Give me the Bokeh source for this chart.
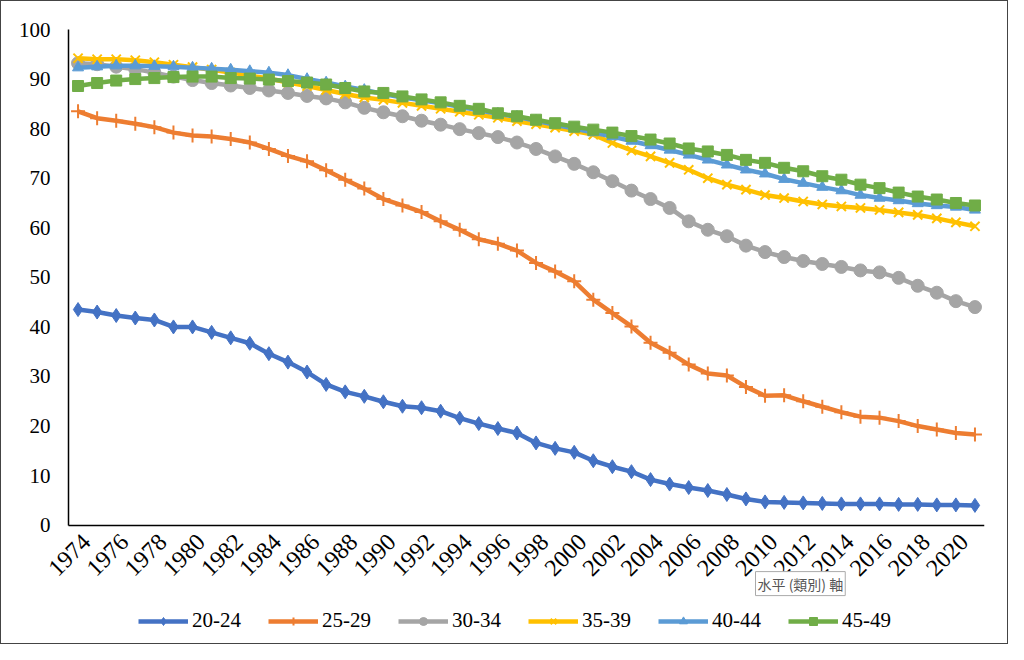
from bokeh.plotting import figure
from bokeh.models import (Range1d, FixedTicker, Legend, LegendItem, Label,
                          NumeralTickFormatter)
from bokeh.embed import file_html
from bokeh.resources import INLINE
import math

years = list(range(1974, 2022))

s20_24 = [43.5, 43.0, 42.3, 41.8, 41.4, 40.0, 40.0, 38.9, 37.8, 36.7,
          34.6, 32.9, 30.9, 28.4, 26.9, 26.0, 24.9, 24.0, 23.7, 23.0,
          21.6, 20.5, 19.5, 18.6, 16.6, 15.5, 14.7, 13.0, 11.8, 10.8,
          9.2, 8.3, 7.6, 7.0, 6.2, 5.3, 4.7, 4.6, 4.5, 4.4,
          4.3, 4.3, 4.3, 4.2, 4.2, 4.1, 4.1, 4.0]
s25_29 = [83.5, 82.1, 81.6, 81.0, 80.3, 79.2, 78.6, 78.4, 77.9, 77.2,
          75.9, 74.5, 73.4, 71.6, 69.7, 67.9, 65.8, 64.5, 63.2, 61.3,
          59.6, 57.7, 56.8, 55.4, 52.9, 51.2, 49.2, 45.5, 42.8, 40.1,
          36.8, 34.8, 32.4, 30.6, 30.2, 27.9, 26.1, 26.2, 25.0, 23.9,
          22.8, 21.9, 21.7, 21.0, 20.0, 19.3, 18.6, 18.3]
s30_34 = [93.2, 93.0, 92.5, 92.0, 91.3, 90.5, 89.8, 89.2, 88.7, 88.2,
          87.7, 87.2, 86.6, 86.1, 85.3, 84.2, 83.3, 82.5, 81.6, 80.8,
          79.9, 79.1, 78.3, 77.2, 75.9, 74.4, 72.9, 71.2, 69.4, 67.5,
          65.8, 64.0, 61.3, 59.6, 58.3, 56.4, 55.1, 54.1, 53.3, 52.7,
          52.1, 51.4, 51.0, 49.9, 48.3, 46.9, 45.2, 44.0]
s35_39 = [94.2, 94.0, 94.0, 93.8, 93.4, 92.9, 92.4, 91.9, 91.3, 90.7,
          90.1, 89.3, 88.6, 87.8, 87.0, 86.3, 85.8, 85.2, 84.6, 84.0,
          83.4, 82.8, 82.2, 81.5, 80.9, 80.2, 79.5, 78.8, 77.1, 75.6,
          74.4, 73.1, 71.7, 70.0, 68.7, 67.7, 66.6, 66.0, 65.3, 64.7,
          64.3, 64.0, 63.6, 63.1, 62.6, 61.9, 61.1, 60.3]
s40_44 = [92.3, 92.5, 92.7, 92.7, 92.6, 92.5, 92.3, 92.1, 91.9, 91.6,
          91.3, 90.8, 90.0, 89.3, 88.5, 87.8, 87.0, 86.3, 85.7, 85.1,
          84.4, 83.7, 83.0, 82.4, 81.6, 80.8, 80.0, 79.2, 78.4, 77.5,
          76.6, 75.7, 74.7, 73.7, 72.7, 71.7, 70.9, 69.8, 69.0, 68.2,
          67.5, 66.6, 66.0, 65.5, 64.9, 64.5, 64.2, 63.6]
s45_49 = [88.6, 89.2, 89.7, 90.0, 90.2, 90.4, 90.5, 90.5, 90.2, 90.1,
          89.9, 89.6, 89.3, 88.9, 88.2, 87.5, 87.2, 86.5, 85.9, 85.3,
          84.6, 84.0, 83.1, 82.5, 81.8, 81.1, 80.4, 79.8, 79.2, 78.5,
          77.8, 77.0, 76.0, 75.4, 74.7, 73.7, 73.1, 72.1, 71.4, 70.4,
          69.7, 68.7, 68.0, 67.1, 66.3, 65.7, 65.0, 64.5]

series_names = ["20-24", "25-29", "30-34", "35-39", "40-44", "45-49"]
series_values = [s20_24, s25_29, s30_34, s35_39, s40_44, s45_49]
colors = ["#4472C4", "#ED7D31", "#A5A5A5", "#FFC000", "#5B9BD5", "#70AD47"]
markers = ["diamond", "cross", "circle", "x", "triangle", "square"]
msizes = [14, 14, 13, 13, 11, 11]

y_ticks = list(range(0, 101, 10))
x_label_years = list(range(1974, 2021, 2))
tooltip_text = "水平 (類別) 軸"

FONT = "Liberation Serif"

X0, X1 = 1973.5, 2021.5          # category band edges (axis extent)
PX_PER_YEAR = 916 / 48.0
PX_PER_UNIT = 4.957
# frame extends left of / above / below the axes so the axis labels and the
# legend are drawn inside it (not clipped)
p = figure(width=1008, height=644, output_backend="svg", toolbar_location=None,
           x_range=Range1d(X0 - 60 / PX_PER_YEAR, X1),
           y_range=Range1d(-23.46, 100 + 18 / PX_PER_UNIT),
           min_border_left=7, min_border_right=25, min_border_top=10,
           min_border_bottom=4)
p.styles = {"border": "1px solid #444"}
p.outline_line_color = None
p.xgrid.visible = False
p.ygrid.visible = False

p.xaxis.fixed_location = 0
p.xaxis.bounds = (X0, X1)
p.yaxis.fixed_location = X0
p.yaxis.bounds = (0, 100)
# labels sit slightly right of the category centre, as in the original
p.xaxis.ticker = FixedTicker(ticks=[y + 0.45 for y in x_label_years])
p.xaxis.formatter = NumeralTickFormatter(format="0")
p.yaxis.ticker = FixedTicker(ticks=y_ticks)
for ax in (p.xaxis, p.yaxis):
    ax.axis_line_color = "black"
    ax.axis_line_width = 1.5
    ax.major_tick_line_color = None
    ax.minor_tick_line_color = None
    ax.major_tick_out = 0
    ax.major_tick_in = 0
    ax.major_label_text_font = FONT
    ax.major_label_text_color = "black"
p.yaxis.major_label_text_font_size = "21px"
p.xaxis.major_label_text_font_size = "24px"
p.yaxis.major_label_standoff = 18
p.xaxis.major_label_standoff = 13
p.xaxis.major_label_orientation = math.pi / 4

items = []
for name, vals, c, m, ms in zip(series_names, series_values, colors, markers, msizes):
    ln = p.line(years, vals, line_color=c, line_width=4.5)
    if m in ("cross", "x"):
        sc = p.scatter(years, vals, marker=m, size=ms, line_color=c, line_width=2)
    else:
        sc = p.scatter(years, vals, marker=m, size=ms, fill_color=c, line_color=c)
    items.append(LegendItem(label=name, renderers=[ln, sc]))

tip = Label(x=2009.5, y=-14.2, text=tooltip_text,
            text_font="Noto Sans CJK TC", text_font_size="14px",
            text_color="#555555", border_line_color="#AAAAAA",
            background_fill_color="white", padding=2)
p.add_layout(tip)

legend = Legend(items=items, orientation="horizontal", location=(130, 8),
                glyph_width=50, glyph_height=20, label_standoff=4, spacing=27,
                padding=0, margin=0, border_line_color=None,
                background_fill_alpha=0,
                label_text_font=FONT, label_text_font_size="21px",
                label_text_color="black")
p.add_layout(legend, "center")

open("out.html", "w").write(file_html(p, INLINE))
